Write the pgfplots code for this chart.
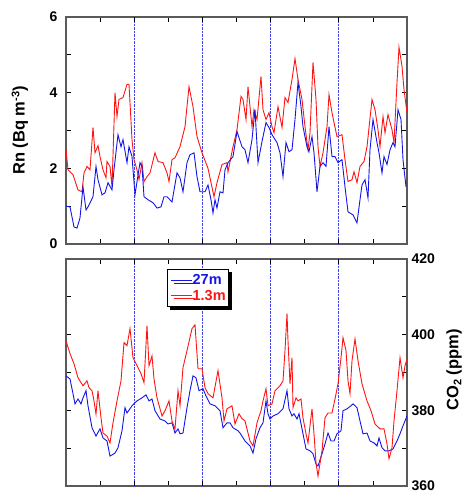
\documentclass[border=0pt]{standalone}
\usepackage{fontspec}
\setmainfont{Liberation Sans}
\usepackage{pgfplots}
\pgfplotsset{compat=1.18}
\usetikzlibrary{shadows}

\definecolor{framegray}{RGB}{90,90,90}
\definecolor{rnred}{RGB}{255,20,20}
\definecolor{rnblue}{RGB}{20,20,230}

\pgfplotsset{
  panel/.style={
    scale only axis, width=341pt, height=227pt,
    anchor=south west,
    xmin=66, xmax=407,
    xtick={66,100.1,134.2,168.3,202.4,236.5,270.6,304.7,338.8,372.9,407},
    xticklabels={},
    extra x ticks={134.2,202.4,270.6,338.8},
    extra x tick labels={},
    extra x tick style={grid=major, major grid style={rnblue!80, densely dotted, line width=0.7pt}},
    axis line style={framegray, line width=1.3pt},
    tick style={black, line width=0.7pt},
    major tick length=5pt, minor tick length=5pt,
    tick align=inside,
    ticklabel style={font=\fontsize{14}{14}\bfseries\selectfont},
    /pgf/number format/assume math mode=true,
    label style={font=\fontsize{16.5}{16.5}\bfseries\selectfont},
    clip=true,
  },
  rn/.style={rnred, line width=0.9pt},
  bl/.style={rnblue, line width=0.9pt},
}

\begin{document}
\begin{tikzpicture}
\path[use as bounding box] (0,0) rectangle (465pt,492pt);

% Rn panel
\begin{axis}[panel, at={(66pt,248pt)},
  ymin=0, ymax=6, ytick={0,2,4,6}, minor ytick={1,3,5},
  yticklabel style={xshift=-5pt},
  ylabel={Rn (Bq m\raisebox{0.6ex}{\fontsize{11}{11}\selectfont -3})},
  ylabel style={at={(axis description cs:-0.135,0.5)}, anchor=center, rotate=0},
]
\addplot[rn] coordinates {
(66,2.5) (68,1.96) (73,1.83) (78,1.43) (82,1.38) (84,1.88) (87,2.05) (90,1.96) (93,3.08) (95,2.41)
(98,2.6) (100,2.31) (103,1.96) (106,1.75) (107,2.18) (110,2.05) (112,1.51) (115,4.0) (117,3.37) (119,3.82)
(123,3.87) (127,4.22) (129,4.22) (132,2.76) (134,2.23) (137,1.96) (139,1.7) (142,2.15) (144,1.65) (147,1.78)
(150,1.88) (155,2.41) (158,2.18) (163,2.15) (167,1.88) (169,1.65) (172,2.23) (175,2.28) (180,2.57) (185,3.1)
(189,4.16) (193,3.63) (197,2.84) (202,2.41) (208,2.0) (214,1.25) (217,1.62) (222,2.1) (227,2.15) (228,1.91)
(233,2.57) (237,3.02) (241,3.9) (243,3.82) (246,3.29) (248,4.16) (252,3.1) (254,3.55) (257,3.29) (261,4.43)
(263,3.55) (266,3.29) (269,3.47) (272,3.1) (274,2.94) (278,3.63) (282,3.08) (285,3.87) (288,3.74) (292,4.35)
(295,4.9) (298,4.35) (302,3.82) (305,3.1) (308,2.49) (310,2.94) (313,4.8) (316,3.82) (318,2.57) (320,2.05)
(323,2.41) (327,3.1) (329,3.95) (332,3.47) (334,3.21) (337,2.84) (342,2.89) (345,2.23) (348,1.65) (352,1.7)
(354,1.91) (357,1.62) (360,2.05) (364,2.18) (367,2.57) (372,3.82) (375,3.55) (378,3.02) (380,2.57) (383,3.37)
(385,2.94) (388,3.42) (392,3.02) (394,2.68) (397,4.27) (399,5.2) (402,4.7) (404,4.08) (407,3.47)
};
\addplot[bl] coordinates {
(66,1.0) (70,0.98) (74,0.45) (77,0.42) (80,0.69) (83,1.51) (86,0.9) (88,0.98) (93,1.25) (96,2.05)
(98,1.7) (102,1.3) (105,1.35) (108,1.62) (112,1.43) (114,1.96) (118,2.89) (121,2.57) (123,2.76) (127,2.15)
(129,2.57) (132,2.31) (135,1.3) (137,1.65) (140,2.15) (142,2.05) (144,1.25) (148,1.17) (153,1.09) (157,0.95)
(161,0.98) (164,1.25) (167,1.25) (172,1.11) (177,1.88) (180,1.75) (183,1.38) (187,2.15) (190,2.36) (194,2.41)
(197,1.78) (200,1.38) (205,1.38) (208,1.56) (211,1.17) (213,0.82) (215,1.17) (217,0.95) (220,1.38) (223,1.35)
(225,1.96) (228,2.15) (233,2.31) (237,2.97) (242,2.57) (245,2.49) (248,2.15) (252,2.76) (255,3.55) (258,2.15)
(262,2.71) (266,3.21) (269,3.08) (272,2.89) (277,2.68) (280,2.41) (283,1.78) (286,2.68) (289,2.44) (292,2.49)
(295,3.29) (298,4.27) (301,3.63) (303,3.1) (307,2.57) (309,2.44) (312,2.84) (314,2.41) (317,1.38) (320,2.05)
(323,2.15) (326,2.05) (329,3.1) (332,2.31) (335,2.31) (338,2.15) (342,2.23) (345,1.51) (348,0.85) (353,0.77)
(357,0.56) (360,1.17) (362,1.56) (365,1.7) (368,1.22) (370,2.49) (373,3.29) (377,2.68) (379,2.41) (382,1.88)
(384,2.31) (387,2.1) (390,2.49) (393,2.68) (395,2.57) (398,3.55) (401,3.29) (403,2.23) (406,1.51)
};
\end{axis}

% CO2 panel
\begin{axis}[panel, at={(66pt,6pt)},
  ymin=360, ymax=420, ytick={360,380,400,420}, minor ytick={370,390,410},
  yticklabel pos=right,
  yticklabel style={xshift=1pt},
  ylabel={CO\raisebox{-0.35ex}{\fontsize{11}{11}\selectfont 2} (ppm)},
  ylabel style={at={(axis description cs:1.138,0.511)}, anchor=center, rotate=0},
  legend cell align=left,
  legend style={at={(rel axis cs:0.296,0.956)}, anchor=north west,
    draw=black, line width=1pt, fill=white,
    inner xsep=3pt, inner ysep=4pt, row sep=2pt,
    font=\fontsize{14.5}{15}\bfseries\selectfont,
    drop shadow={fill=black, opacity=1, shadow xshift=3pt, shadow yshift=-3pt},
    nodes={inner xsep=0.3pt, inner ysep=1pt}},
  legend image code/.code={\draw[#1] (0pt,0pt) -- (21pt,0pt);},
]
\addplot[bl] coordinates {
(66,389.1) (70,388.3) (73,384.4) (75,381.7) (78,383) (81,381.7) (83,383.3) (86,385.2) (88,381.2) (92,375.4)
(96,373.2) (100,375.1) (103,372.7) (107,371.9) (110,367.9) (115,368.7) (118,370.1) (122,374.6) (125,380.7) (127,379.3)
(132,381.2) (137,382.5) (142,383.3) (146,384.1) (149,382.5) (152,383) (155,379.9) (160,377.7) (165,377.2) (168,376.4)
(172,376.7) (175,374) (178,375.1) (180,373.8) (183,374) (187,380.7) (190,385.2) (193,389.1) (196,388.6) (199,385.2)
(203,385.7) (206,383.8) (210,381.7) (215,381.2) (220,379.9) (223,375.4) (227,376.7) (230,376.7) (233,375.4) (238,374.6)
(240,374) (245,371.9) (250,370.6) (253,368.7) (256,372.5) (260,375.4) (263,376.7) (266,382.5) (268,379.1) (270,377.7)
(273,378.5) (278,379.1) (283,380.4) (287,385.2) (289,380.4) (292,378.5) (294,379.1) (297,377.7) (299,379.1) (303,373.8)
(306,369.8) (310,369.3) (313,368.5) (316,365.8) (318,365.3) (322,368.5) (325,371.1) (328,374) (331,371.9) (334,371.9)
(337,373.8) (341,374.6) (343,379.9) (347,380.4) (351,381.2) (353,381.7) (357,380.7) (360,377.2) (363,373.8) (367,374)
(370,371.9) (374,371.4) (377,370.6) (379,372.7) (382,370.1) (385,369.3) (389,369.3) (393,369.8) (397,371.9) (400,373.8)
(403,375.9) (407,378.5)
};
\addlegendentry{\textcolor{rnblue}{27m}}
\addplot[rn] coordinates {
(66,398.4) (70,395) (74,392.3) (78,388.6) (83,386.5) (87,387.8) (89,386) (92,385.2) (94,382.5) (96,379)
(98,385.2) (101,378) (103,374) (107,373.2) (110,371.4) (113,376.7) (117,382.5) (121,387.8) (124,397.9) (127,397.1)
(130,401.6) (133,393.9) (137,391.8) (141,389.7) (144,387.3) (147,402.4) (149,391.8) (152,394.4) (154,388.3) (157,383.3)
(162,378.5) (165,379.9) (169,382.5) (172,377.2) (175,375.1) (178,385.2) (180,381.2) (183,391.3) (187,395.8) (192,401.6)
(195,402.6) (198,391) (202,391) (205,386) (208,384.4) (213,383.3) (218,390.5) (222,383.3) (224,377.2) (227,380.4)
(232,381.2) (235,376.4) (239,379.1) (242,377.8) (245,377.2) (250,371.9) (253,370.6) (257,376.7) (261,379.9) (263,382.5)
(266,385.7) (268,381.2) (272,381.7) (275,385.2) (280,386.5) (283,387.8) (285,395.8) (287,405.6) (288,398.4) (290,387)
(292,393.9) (293,380.7) (296,383.3) (298,382.5) (301,383) (303,378) (306,373.8) (308,371.4) (312,380.4) (314,373.8)
(316,366.1) (318,362.6) (322,369.3) (325,378) (328,379.3) (332,379.3) (335,383) (338,387) (341,393.9) (343,399.2)
(346,395.8) (348,387.8) (350,384.4) (352,393.1) (355,398.9) (358,393.1) (362,387) (367,382.5) (371,379.9) (375,376.4)
(380,375.1) (384,375.1) (387,371.1) (389,367.2) (392,370.1) (394,377.2) (397,385.2) (400,393.9) (403,388.6) (405,391.8)
(407,393.6)
};
\addlegendentry{\textcolor{rnred}{1.3m}}
\end{axis}
\end{tikzpicture}
\end{document}
